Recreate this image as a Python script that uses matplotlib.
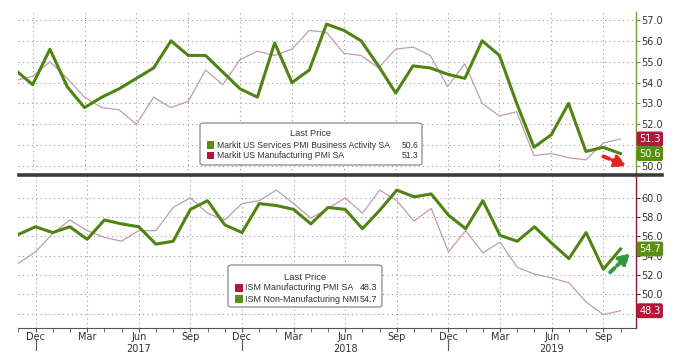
import numpy as np
import pandas as pd
import matplotlib
matplotlib.use("Agg")
import matplotlib.pyplot as plt
from matplotlib.patches import FancyBboxPatch, Rectangle
from matplotlib.transforms import blended_transform_factory

# monthly readings, Nov 2016 .. Oct 2019
months = pd.date_range("2016-11-01", "2019-10-01", freq="MS")

markit_services = [54.6, 53.9, 55.6, 53.8, 52.8, 53.3, 53.7, 54.2, 54.7, 56.0, 55.3, 55.3,
                   54.5, 53.7, 53.3, 55.9, 54.0, 54.6, 56.8, 56.5, 56.0, 54.8, 53.5, 54.8,
                   54.7, 54.4, 54.2, 56.0, 55.3, 53.0, 50.9, 51.5, 53.0, 50.7, 50.9, 50.6]
markit_mfg = [54.1, 54.3, 55.0, 54.2, 53.3, 52.8, 52.7, 52.0, 53.3, 52.8, 53.1, 54.6,
              53.9, 55.1, 55.5, 55.3, 55.6, 56.5, 56.4, 55.4, 55.3, 54.7, 55.6, 55.7,
              55.3, 53.8, 54.9, 53.0, 52.4, 52.6, 50.5, 50.6, 50.4, 50.3, 51.1, 51.3]

ism_mfg = [53.2, 54.4, 56.3, 57.7, 56.6, 55.9, 55.5, 56.6, 56.6, 59.0, 60.0, 58.4,
           57.7, 59.4, 59.7, 60.8, 59.4, 57.9, 58.9, 60.0, 58.4, 60.8, 59.7, 57.6,
           58.9, 54.4, 56.6, 54.3, 55.4, 52.8, 52.1, 51.7, 51.2, 49.2, 47.9, 48.3]
ism_nonmfg = [56.2, 57.0, 56.4, 57.0, 55.7, 57.7, 57.3, 57.0, 55.2, 55.5, 58.8, 59.7,
              57.2, 56.4, 59.4, 59.2, 58.8, 57.3, 59.0, 58.8, 56.8, 58.7, 60.8, 60.1,
              60.4, 58.2, 56.8, 59.7, 56.1, 55.5, 57.0, 55.3, 53.7, 56.4, 52.6, 54.7]

upper_labels = ["Markit US Services PMI Business Activity SA", "Markit US Manufacturing PMI SA"]
lower_labels = ["ISM Manufacturing PMI SA", "ISM Non-Manufacturing NMI"]
upper_ticks = [50, 51, 52, 53, 54, 55, 56, 57]
lower_ticks = [48, 50, 52, 54, 56, 58, 60]
# tick labels that sit fully under the last-value boxes
hidden_upper = [51]
hidden_lower = [48]

GREEN = "#4f8412"
PINK = "#c09cb0"
RED_BOX = "#b5173a"
GREEN_BOX = "#5a8f14"
LEG_FONT = "Liberation Sans"
W, H = 680, 359


def px(x, y):
    return x / W, 1 - y / H


x = np.arange(len(months))
quarter = [i for i, m in enumerate(months) if m.month in (12, 3, 6, 9)]
decs = [i for i, m in enumerate(months) if m.month == 12]
junes = [i for i, m in enumerate(months) if m.month == 6]

fig = plt.figure(figsize=(6.8, 3.59), dpi=100)
ax1 = fig.add_axes([18.3 / W, 1 - 174 / H, (636 - 18.3) / W, 162 / H])
ax2 = fig.add_axes([18.3 / W, 1 - 328.3 / H, (636 - 18.3) / W, 152.3 / H])

for ax, spine_col in ((ax1, "#7a9a3a"), (ax2, "#8c1a2c")):
    ax.set_xlim(0.17, 35.9)
    for s in ("left", "top"):
        ax.spines[s].set_visible(False)
    ax.spines["right"].set_color(spine_col)
    ax.spines["right"].set_linewidth(1.0)
    ax.yaxis.tick_right()
    ax.tick_params(axis="y", colors=spine_col, labelcolor="#333333", labelsize=7,
                   length=3, width=0.8, pad=1)
    ax.set_xticks(quarter)
    ax.grid(True, color="#9a9a9a", linestyle=(0, (1, 3)), linewidth=0.8)
    ax.set_axisbelow(True)

# upper panel
ax1.plot(x, markit_mfg, color=PINK, lw=0.9)
ax1.plot(x, markit_services, color=GREEN, lw=2.2)
ax1.set_ylim(49.62, 57.38)
ax1.set_yticks(upper_ticks)
ax1.set_yticklabels(["" if v in hidden_upper else f"{v:.1f}" for v in upper_ticks])
ax1.spines["bottom"].set_visible(False)
ax1.tick_params(axis="x", length=0, labelbottom=False)

# lower panel
ax2.plot(x, ism_mfg, color=PINK, lw=0.9)
ax2.plot(x, ism_nonmfg, color=GREEN, lw=2.2)
ax2.set_ylim(46.48, 62.26)
ax2.set_yticks(lower_ticks)
ax2.set_yticklabels(["" if v in hidden_lower else f"{v:.1f}" for v in lower_ticks])
ax2.spines["bottom"].set_color("#555555")
ax2.set_xticklabels([months[i].strftime("%b") for i in quarter])
ax2.set_xticks(x, minor=True)
ax2.tick_params(axis="x", which="both", length=3, color="#555555", labelsize=7,
                labelcolor="#333333", pad=0)

tr = blended_transform_factory(ax2.transData, ax2.transAxes)
for i in decs:
    ax2.plot([i, i], [-0.077, -0.145], transform=tr, color="#555555", lw=0.8, clip_on=False)
for i in junes:
    ax2.text(i, -0.105, str(months[i].year), transform=tr, ha="center", va="top",
             fontsize=7, color="#333333")

# thick separator between panels
fig.add_artist(plt.Line2D([19 / W, 662 / W], [1 - 175 / H] * 2, color="#3c3c3c", lw=2.6))


def last_box(ax, val, col):
    t = blended_transform_factory(ax.transAxes, ax.transData)
    ax.text(1.005, val, f"{val:.1f}", transform=t, fontsize=7, color="white",
            va="center", ha="left", clip_on=False, zorder=10,
            bbox=dict(boxstyle="round,pad=0.18,rounding_size=0.15", fc=col, ec=col))


last_box(ax1, markit_mfg[-1], RED_BOX)
last_box(ax1, markit_services[-1], GREEN_BOX)
last_box(ax2, ism_mfg[-1], RED_BOX)
last_box(ax2, ism_nonmfg[-1], GREEN_BOX)

# dashed trend arrows
ax1.annotate("", xy=(0.988, 0.045), xytext=(0.943, 0.115), xycoords="axes fraction",
             arrowprops=dict(arrowstyle="-|>,head_length=0.6,head_width=0.35", color="#e8201c",
                             lw=2.8, linestyle=(0, (1.6, 0.9))))
ax2.annotate("", xy=(0.993, 0.505), xytext=(0.955, 0.355), xycoords="axes fraction",
             arrowprops=dict(arrowstyle="-|>,head_length=0.6,head_width=0.35", color="#2e9a3a",
                             lw=2.8, linestyle=(0, (1.6, 0.9))))


def legend_box(x0, y0, x1, y1, title_xy, rows, sq_x, txt_x, val_x, size):
    (a, b), (c, d) = px(x0, y1), px(x1, y0)
    fig.add_artist(FancyBboxPatch((a, b), c - a, d - b, transform=fig.transFigure,
                                  boxstyle="round,pad=0,rounding_size=0.006",
                                  fc="white", ec="#8a8a8a", lw=0.9))
    tx, ty = px(*title_xy)
    fig.text(tx, ty, "Last Price", ha="center", va="center", fontsize=size + 0.4,
             color="#333333", family=LEG_FONT)
    for y, label, val, col in rows:
        sx, sy = px(sq_x, y + 3.5)
        fig.add_artist(Rectangle((sx, sy), 7.5 / W, 7.5 / H, transform=fig.transFigure,
                                 fc=col, ec="none"))
        lx, ly = px(txt_x, y)
        fig.text(lx, ly, label, ha="left", va="center", fontsize=size, color="#333333",
                 family=LEG_FONT)
        vx, _ = px(val_x, y)
        fig.text(vx, ly, f"{val:.1f}", ha="right", va="center", fontsize=size,
                 color="#333333", family=LEG_FONT)


legend_box(200, 123, 422, 165, (310, 134),
           [(145, upper_labels[0], markit_services[-1], GREEN_BOX),
            (156, upper_labels[1], markit_mfg[-1], RED_BOX)],
           207, 217, 418, 6.2)
legend_box(228, 265, 382, 307, (305, 277),
           [(288, lower_labels[0], ism_mfg[-1], RED_BOX),
            (299, lower_labels[1], ism_nonmfg[-1], GREEN_BOX)],
           235, 245, 377, 6.4)

fig.savefig("out.png", dpi=100)
